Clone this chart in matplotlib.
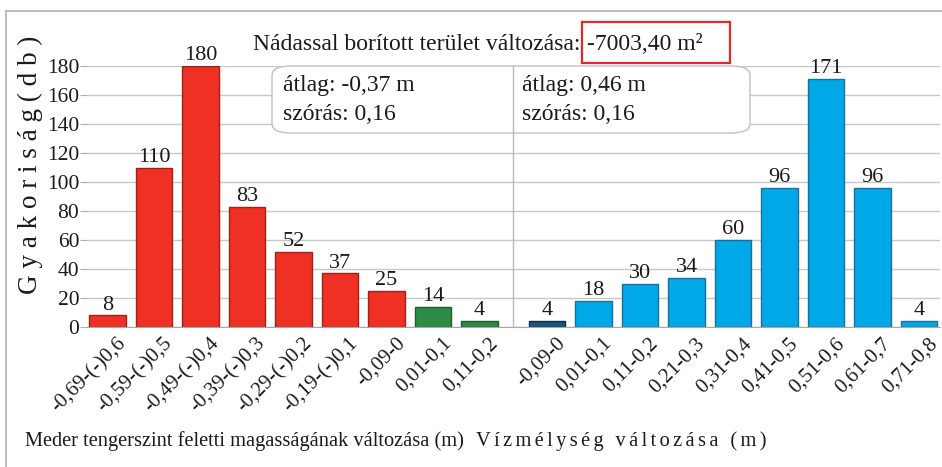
import numpy as np
import matplotlib.pyplot as plt
from matplotlib.patches import FancyBboxPatch, Rectangle
from matplotlib.lines import Line2D
import matplotlib.transforms as mtransforms

plt.rcParams["font.family"] = ["Liberation Serif", "DejaVu Serif"]

# data
left_labels = ["-0,69-(-)0,6", "-0,59-(-)0,5", "-0,49-(-)0,4", "-0,39-(-)0,3",
               "-0,29-(-)0,2", "-0,19-(-)0,1", "-0,09-0", "0,01-0,1", "0,11-0,2"]
left_values = [8, 110, 180, 83, 52, 37, 25, 14, 4]
left_colors = ["#EE3124"] * 7 + ["#2E8B45"] * 2
left_edges = ["#9E2218"] * 7 + ["#1D5E2D"] * 2

right_labels = ["-0,09-0", "0,01-0,1", "0,11-0,2", "0,21-0,3", "0,31-0,4",
                "0,41-0,5", "0,51-0,6", "0,61-0,7", "0,71-0,8"]
right_values = [4, 18, 30, 34, 60, 96, 171, 96, 4]
right_colors = ["#1B557A"] + ["#00A8E8"] * 8
right_edges = ["#0E2F47"] + ["#1F6E9A"] * 8

yticks = list(range(0, 181, 20))
title_text = "Nádassal borított terület változása:"
title_value = "-7003,40 m²"
stats_left = ["átlag: -0,37 m", "szórás: 0,16"]
stats_right = ["átlag: 0,46 m", "szórás: 0,16"]
ylabel = "G y a k o r i s á g ( d b )"
xlabel_left = "Meder tengerszint feletti magasságának változása (m)"
xlabel_right = "Vízmélység változása (m)"

W, H = 942, 467
TXT = "#1a1a1a"


def fx(px):
    return px / W


def fy(py):
    return 1 - py / H


def main():
    fig = plt.figure(figsize=(W / 100, H / 100), dpi=100)
    ax = fig.add_axes([fx(87), fy(327), fx(940) - fx(87), fy(66) - fy(327)])

    gap = 1.45
    xl = np.arange(len(left_values))
    xr = len(left_values) - 1 + gap + np.arange(len(right_values))
    sep = len(left_values) - 1 + gap / 2

    width = 0.79
    bl = ax.bar(xl, left_values, width, color=left_colors, edgecolor=left_edges,
                linewidth=1, zorder=3)
    br = ax.bar(xr, right_values, width, color=right_colors, edgecolor=right_edges,
                linewidth=1, zorder=3)
    for bars, vals in ((bl, left_values), (br, right_values)):
        for b, v in zip(bars, vals):
            ax.text(b.get_x() + b.get_width() / 2, v + 0.5, str(v), ha="center",
                    va="bottom", fontsize=16, color=TXT, zorder=5,
                    clip_on=False)

    ax.set_xlim(-0.44, 17.9)
    ax.set_ylim(0, 180)
    ax.set_yticks(yticks)
    ax.tick_params(axis="y", labelsize=15.5, length=5, color="#B0B0B0", pad=0.5,
                   labelcolor=TXT)
    ax.yaxis.grid(True, color="#C8C8C8", linewidth=1, zorder=0)
    ax.set_axisbelow(True)
    for s in ("top", "right", "left"):
        ax.spines[s].set_visible(False)
    ax.spines["bottom"].set_color("#A8A8A8")
    ax.spines["bottom"].set_zorder(4)

    ax.set_xticks(np.concatenate([xl, xr]))
    ax.set_xticklabels(left_labels + right_labels, rotation=45, ha="right",
                       va="top", rotation_mode="anchor", fontsize=15, color=TXT)
    ax.tick_params(axis="x", length=0, pad=5)
    offset = mtransforms.ScaledTranslation(9 / 100, 0, fig.dpi_scale_trans)
    for lab in ax.get_xticklabels():
        lab.set_transform(lab.get_transform() + offset)

    # separator between the two histograms
    ax.axvline(sep, color="#B8B8B8", linewidth=1, zorder=6)

    # rounded statistics box
    box = FancyBboxPatch((fx(272), fy(133)), fx(750) - fx(272), fy(66) - fy(133),
                         boxstyle="round,pad=0,rounding_size=0.02",
                         transform=fig.transFigure, facecolor="white",
                         edgecolor="#C0C0C0", linewidth=1, zorder=5)
    ax.add_artist(box)
    box.set_clip_on(False)
    for i, (sl, sr) in enumerate(zip(stats_left, stats_right)):
        yy = fy(86 + i * 28)
        fig.text(fx(283), yy, sl, fontsize=17, va="center", ha="left", color=TXT)
        fig.text(fx(522), yy, sr, fontsize=17, va="center", ha="left", color=TXT)

    # title with framed value
    fig.text(fx(580), fy(44), title_text, fontsize=17, ha="right", va="center",
             color=TXT)
    fig.text(fx(587), fy(44), title_value, fontsize=17, ha="left", va="center",
             color=TXT)
    fig.patches.append(Rectangle((fx(582), fy(63)), fx(730) - fx(582),
                                 fy(22) - fy(63), transform=fig.transFigure,
                                 fill=False, edgecolor="#E8262A", linewidth=1.6))

    fig.text(fx(30), fy(165), ylabel, rotation=90, fontsize=19.5, ha="center",
             va="center", color=TXT)
    fig.text(fx(25), fy(441), xlabel_left, fontsize=14.7, ha="left", va="center",
             color=TXT)
    fig.text(fx(476), fy(441), "\u2006".join(xlabel_right), fontsize=14.7,
             ha="left", va="center", color=TXT)

    # outer frame
    fig.lines.append(Line2D([fx(6), fx(6)], [0, fy(11)], transform=fig.transFigure,
                            color="#B0B0B0", linewidth=1.2))
    fig.lines.append(Line2D([fx(6), 1], [fy(11), fy(11)], transform=fig.transFigure,
                            color="#B0B0B0", linewidth=1.2))

    fig.savefig("out.png", dpi=100)


if __name__ == "__main__":
    main()
